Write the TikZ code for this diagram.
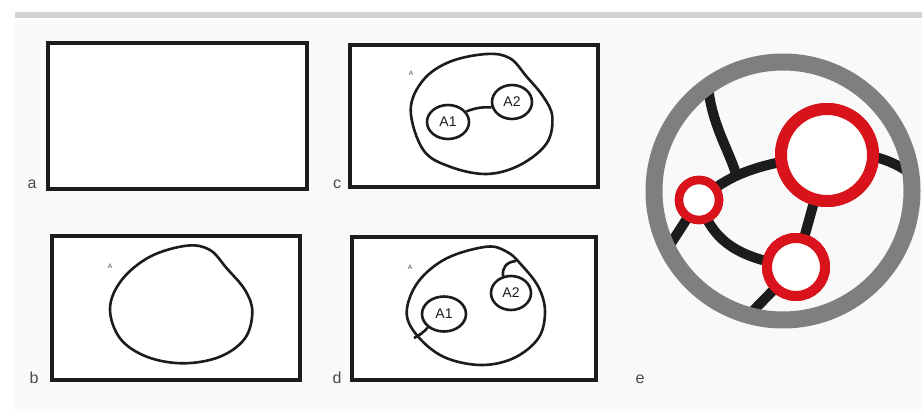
\documentclass[tikz,border=0pt]{standalone}
\usepackage{fontspec}
\setmainfont{Liberation Sans}
\usetikzlibrary{shapes.geometric}
\definecolor{ringgray}{HTML}{7E7F81}
\definecolor{netred}{HTML}{D8131B}
\definecolor{bargray}{HTML}{D3D3D3}
\definecolor{panelbg}{HTML}{F9F9FA}
\definecolor{ink}{HTML}{1C1C1C}
\definecolor{labgray}{HTML}{4A4A4A}
\tikzset{
  frame/.style={draw=ink,line width=3.5pt,fill=white},
  blob/.style={draw=ink,line width=2.6pt,line join=round},
  sub/.style={ellipse,draw=ink,line width=2.6pt,fill=white,inner sep=0pt,font=\fontsize{14}{14}\selectfont,text=ink},
  panellab/.style={font=\fontsize{16}{16}\selectfont,text=labgray,inner sep=0pt},
  tinylab/.style={font=\fontsize{6.5}{6.5}\selectfont,text=labgray,inner sep=0pt},
  vessel/.style={draw=ink,line width=10pt},
  redring/.style={circle,draw=netred,fill=white,inner sep=0pt},
}
\begin{document}
\begin{tikzpicture}[x=1pt,y=-1pt]
\useasboundingbox (0,0) rectangle (922,411);
\fill[white] (0,0) rectangle (922,411);
\fill[panelbg] (15,20) rectangle (922,411);
\fill[bargray] (15,12) rectangle (922,18);

% panel frames
\draw[frame] (48,43) rectangle (307,189);
\draw[frame] (52,236) rectangle (300,380);
\draw[frame] (350,45) rectangle (598,187);
\draw[frame] (352,237) rectangle (596,380);

% panel labels
\node[panellab,anchor=base] (la) at (32,189) {a};
\node[panellab,anchor=base] (lb) at (34,384) {b};
\node[panellab,anchor=base] (lc) at (337,189) {c};
\node[panellab,anchor=base] (ld) at (337,384) {d};
\node[panellab,anchor=base] (le) at (640,384) {e};

% panel b blob
\draw[blob] plot[smooth cycle,tension=0.6] coordinates {(110,308.3) (121.7,280) (150,256.7) (186.7,245.7) (210,250) (226.7,268.3) (245,290) (252.3,311.7) (245,338.3) (220,356.7) (183.3,363.3) (146.7,356.7) (120,338.3)};
\node[tinylab] (Ab) at (110,266) {A};

% panel c blob
\draw[blob] plot[smooth cycle,tension=0.6] coordinates {(410.7,110) (423.3,80) (450,61.7) (486.7,54) (510,58.3) (526.7,76.7) (543.3,96.7) (552.3,116.7) (546.7,143.3) (520,165) (486.7,174) (450,166.7) (423.3,150)};
\node[tinylab] (Ac) at (411,73) {A};
\node[sub,minimum width=42pt,minimum height=34pt] (c1) at (448,122) {A1};
\node[sub,minimum width=40pt,minimum height=34pt] (c2) at (512,102) {A2};
\draw[blob] (c1.30) to[bend left=12] (c2.195);

% panel d blob
\draw[blob] plot[smooth cycle,tension=0.6] coordinates {(406.7,311.7) (418.3,281.7) (446.7,258.3) (486.7,246.7) (506.7,251.7) (520,263.3) (538.3,286.7) (545,311.7) (538.3,338.3) (513.3,358.3) (480,365) (443.3,356.7) (416.7,335)};
\node[tinylab] (Ad) at (410,267) {A};
\node[sub,minimum width=44pt,minimum height=35pt] (d1) at (444,314) {A1};
\node[sub,minimum width=40pt,minimum height=34pt] (d2) at (511,293) {A2};
\coordinate (d1b) at (414,338);
\coordinate (d2b) at (516,261);
\draw[blob] (d1.220) to[bend left=10] (d1b);
\draw[blob] (d2.115) .. controls (502,268) and (506,262) .. (d2b);

% panel e vessels
\coordinate (t1) at (708,86);
\coordinate (rr) at (911,174);
\coordinate (ll) at (668,248);
\coordinate (bb) at (748.5,315.5);
\node[redring,line width=12pt,minimum size=92pt] (big) at (827,155) {};
\node[redring,line width=8.5pt,minimum size=40pt] (small) at (699,200) {};
\node[redring,line width=10pt,minimum size=58pt] (mid) at (796,267) {};
\draw[vessel] (small.center) .. controls (725,180) and (745,164) .. coordinate[pos=0.45] (jn) (big.center);
\draw[vessel] (t1) .. controls (712,125) and (728,148) .. (jn);
\draw[vessel] (big.center) .. controls (860,150) and (890,158) .. (rr);
\draw[vessel] (big.center) -- (mid.center);
\draw[vessel] (small.center) .. controls (712,240) and (735,258) .. (mid.center);
\draw[vessel] (small.center) -- (ll);
\draw[vessel] (mid.center) -- (bb);
% ring
\draw[ringgray,line width=17pt] (783,191) circle[radius=129];
% red circles on top
\node[redring,line width=12pt,minimum size=92pt] at (big) {};
\node[redring,line width=8.5pt,minimum size=40pt] at (small) {};
\node[redring,line width=10pt,minimum size=58pt] at (mid) {};
\end{tikzpicture}
\end{document}
